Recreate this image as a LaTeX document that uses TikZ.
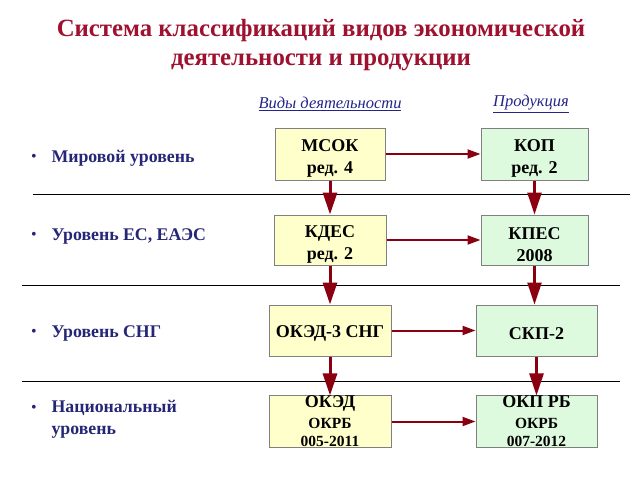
\documentclass[tikz,border=0pt]{standalone}
\usepackage{fontspec}
\setmainfont{Liberation Serif}
\usetikzlibrary{arrows.meta}
\definecolor{titlered}{RGB}{158,18,48}
\definecolor{levelblue}{RGB}{38,38,118}
\definecolor{subblue}{RGB}{36,36,140}
\definecolor{arrowred}{RGB}{138,0,16}
\definecolor{boxyellow}{RGB}{255,255,204}
\definecolor{boxgreen}{RGB}{222,250,222}
\definecolor{boxedge}{RGB}{128,128,128}
\newcommand{\lift}[1]{\rule{0pt}{#1}}
\begin{document}
\begin{tikzpicture}[x=1pt,y=-1pt,
  actbox/.style={draw=boxedge,line width=1pt,fill=boxyellow,align=center,
    font=\fontsize{18}{21.5}\selectfont\bfseries,inner sep=0pt},
  prodbox/.style={actbox,fill=boxgreen},
  level/.style={anchor=west,text=levelblue,font=\fontsize{17.8}{22}\selectfont\bfseries,align=left},
  bull/.style={text=levelblue,font=\fontsize{16}{18}\selectfont},
  downarrow/.style={draw=arrowred,line width=3pt,-{Triangle[width=14pt,length=22pt]}},
  sidearrow/.style={draw=arrowred,line width=2pt,-{Triangle[width=9pt,length=13pt]}},
  sep/.style={draw=black,line width=1pt}]
\useasboundingbox (0,0) rectangle (640,480);
% Title
\node[text=titlered,font=\fontsize{24.8}{29}\selectfont\bfseries,align=center] (title) at (321,45)
  {Система классификаций видов экономической\\деятельности и продукции};
\node[text=subblue,font=\fontsize{16.5}{18}\selectfont\itshape] (acts) at (330,104) {\underline{Виды деятельности}};
\node[text=subblue,font=\fontsize{16.5}{18}\selectfont\itshape] (prods) at (531,104) {\underline{Продукция}};
% Levels
\node[bull] (b1) at (34,158) {•};
\node[level] (world) at (48,158) {Мировой уровень};
\node[bull] (b2) at (34,236) {•};
\node[level] (eu) at (48,236) {Уровень ЕС, ЕАЭС};
\node[bull] (b3) at (34,333) {•};
\node[level] (cis) at (48,333) {Уровень СНГ};
\node[bull] (b4) at (34,409) {•};
\node[level,anchor=north west] (nat) at (48,397) {Национальный\\уровень};
% Separators
\coordinate (s1l) at (33,194); \coordinate (s1r) at (630,194);
\coordinate (s2l) at (22,285); \coordinate (s2r) at (620,285);
\coordinate (s3l) at (22,381); \coordinate (s3r) at (620,381);
\draw[sep] (s1l) -- (s1r);
\draw[sep] (s2l) -- (s2r);
\draw[sep] (s3l) -- (s3r);
% Boxes
\node[actbox,minimum width=110pt,minimum height=52pt] (msok) at (330,154) {\lift{21pt}МСОК\\ред. 4};
\node[prodbox,minimum width=107pt,minimum height=52pt] (kop) at (534.5,154) {\lift{21pt}КОП\\ред. 2};
\node[actbox,minimum width=112pt,minimum height=50pt] (kdes) at (330,240) {\lift{21pt}КДЕС\\ред. 2};
\node[prodbox,minimum width=107pt,minimum height=50pt] (kpes) at (534.5,240) {\lift{21pt}КПЕС\\2008};
\node[actbox,minimum width=122pt,minimum height=51pt] (oked3) at (330,330.5) {\lift{18pt}ОКЭД-3 СНГ};
\node[prodbox,minimum width=121pt,minimum height=51pt] (skp) at (536.5,330.5) {\lift{18pt}СКП-2};
\node[actbox,minimum width=122pt,minimum height=51pt] (oked) at (330,421.5)
  {ОКЭД\\[-1pt]{\fontsize{15.5}{17}\selectfont ОКРБ}\\[-3pt]{\fontsize{15.5}{17}\selectfont 005-2011}};
\node[prodbox,minimum width=121pt,minimum height=51pt] (okp) at (536.5,421.5)
  {ОКП РБ\\[-1pt]{\fontsize{15.5}{17}\selectfont ОКРБ}\\[-3pt]{\fontsize{15.5}{17}\selectfont 007-2012}};
% Arrows
\draw[downarrow] (msok) -- (kdes);
\draw[downarrow] (kdes) -- (oked3);
\draw[downarrow] (oked3) -- (oked);
\draw[downarrow,line width=2.5pt] (kop) -- (kpes);
\draw[downarrow,line width=2.5pt] (kpes.south) -- (skp.north -| kpes.south);
\draw[downarrow,line width=2.5pt] (skp) -- (okp);
\draw[sidearrow] (msok) -- (kop);
\draw[sidearrow] (kdes) -- (kpes);
\draw[sidearrow] (oked3) -- (skp);
\draw[sidearrow] (oked) -- (okp);
\end{tikzpicture}
\end{document}
